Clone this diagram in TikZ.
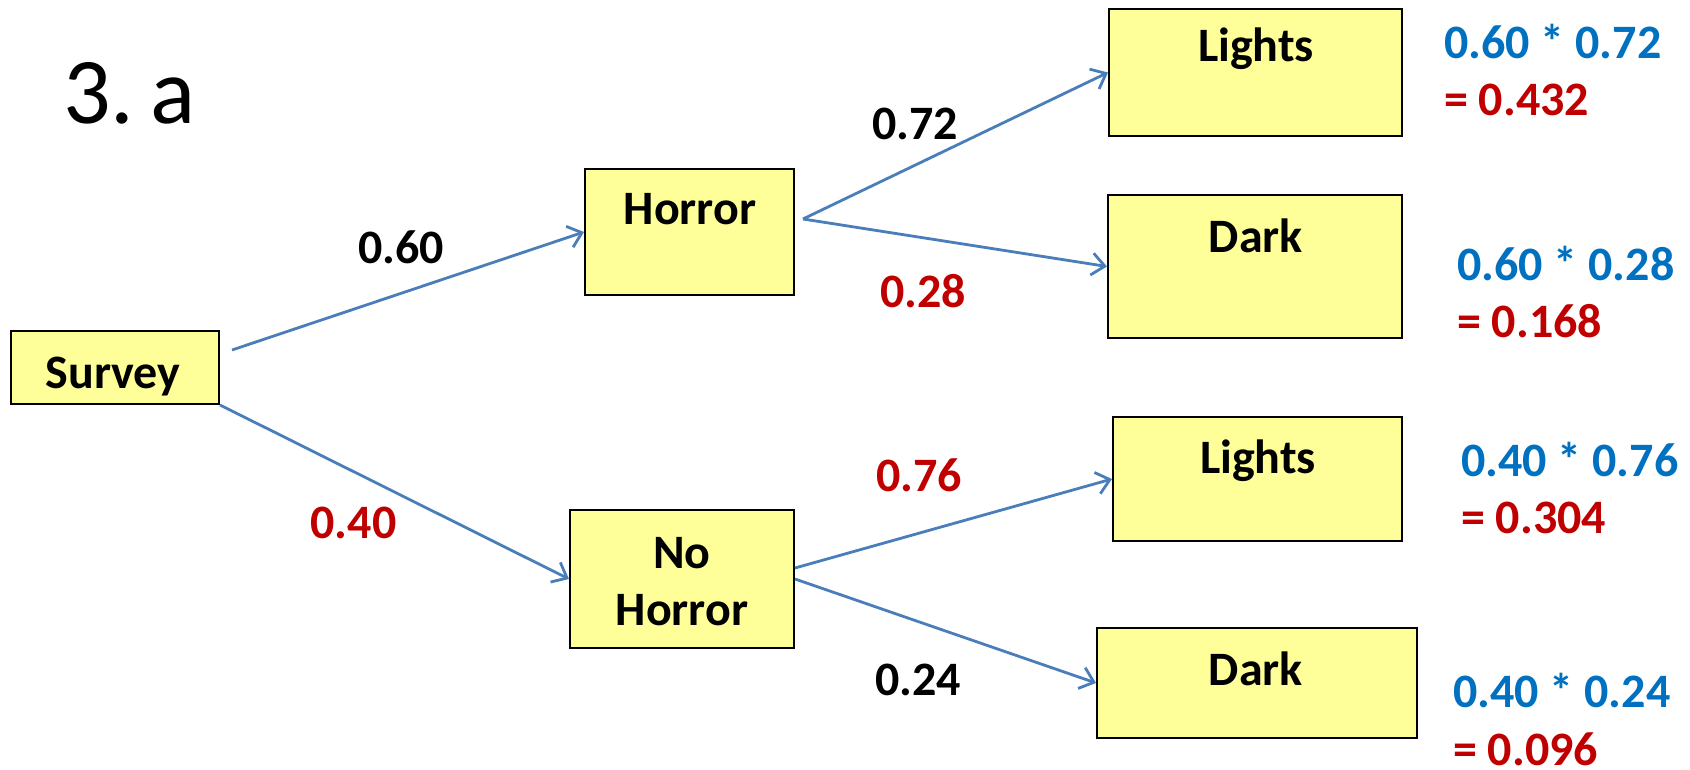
\documentclass[tikz,border=0pt]{standalone}
\usepackage{fontspec}
\setmainfont{Carlito}
\usetikzlibrary{arrows.meta}
\definecolor{boxfill}{HTML}{FFFF99}
\definecolor{linkblue}{HTML}{4A7EBB}
\definecolor{calcblue}{HTML}{0070C0}
\definecolor{calcred}{HTML}{C00000}
\begin{document}
\begin{tikzpicture}[x=1pt,y=-1pt,
  box/.style={draw=black, line width=2pt, fill=boxfill, inner sep=0pt},
  lbl/.style={font=\fontsize{48}{57}\selectfont\bfseries, anchor=base, inner sep=0pt},
  calc/.style={font=\fontsize{48}{57}\selectfont\bfseries, anchor=base west, inner sep=0pt},
  link/.style={draw=linkblue, line width=2.8pt, -{Straight Barb[length=13pt,width=22pt]}}]
\useasboundingbox (0,0) rectangle (1690,770);
\node[font=\fontsize{94}{106}\selectfont, anchor=base west, inner sep=0pt] (title) at (63,124) {3.\hspace{0.17em}a};
% boxes
\node[box, minimum width=208pt, minimum height=73pt] (s) at (115,367.5) {};
\node[box, minimum width=209pt, minimum height=126pt] (h) at (689.5,232) {};
\node[box, minimum width=224pt, minimum height=138pt] (nh) at (682,579) {};
\node[box, minimum width=293pt, minimum height=127pt] (l1) at (1255.5,72.5) {};
\node[box, minimum width=294pt, minimum height=143pt] (d1) at (1255,266.5) {};
\node[box, minimum width=289pt, minimum height=124pt] (l2) at (1257.5,479) {};
\node[box, minimum width=320pt, minimum height=110pt] (d2) at (1257,683) {};
% box texts
\node[lbl] (st) at (113,388) {Survey};
\node[lbl] (ht) at (690,225) {Horror};
\node[lbl] (nht1) at (682,568) {No};
\node[lbl] (nht2) at (682,625) {Horror};
\node[lbl] (l1t) at (1256,62) {Lights};
\node[lbl] (d1t) at (1256,253) {Dark};
\node[lbl] (l2t) at (1258,473) {Lights};
\node[lbl] (d2t) at (1256,685) {Dark};
% fork points
\coordinate (sa) at (232,350);
\coordinate (hf) at (803,219);
% connectors
\draw[link] (sa) -- (h.west);
\draw[link] (s.south east) -- (nh.west);
\draw[link] (hf) -- (l1.west);
\draw[link] (hf) -- (d1.west);
\draw[link] ([yshift=11pt]nh.east) -- (l2.west);
\draw[link] (nh.east) -- (d2.west);
% branch probabilities
\node[lbl] (p1) at (401,264) {0.60};
\node[lbl, text=calcred] (p2) at (353.5,538) {0.40};
\node[lbl] (p3) at (915,140) {0.72};
\node[lbl, text=calcred] (p4) at (923,308) {0.28};
\node[lbl, text=calcred] (p5) at (919,491) {0.76};
\node[lbl] (p6) at (918,695) {0.24};
% calculations
\node[calc, text=calcblue] (c1) at (1444,59) {0.60 * 0.72};
\node[calc, text=calcred] (r1) at (1444,116) {= 0.432};
\node[calc, text=calcblue] (c2) at (1457,280) {0.60 * 0.28};
\node[calc, text=calcred] (r2) at (1457,337) {= 0.168};
\node[calc, text=calcblue] (c3) at (1461,476) {0.40 * 0.76};
\node[calc, text=calcred] (r3) at (1461,533) {= 0.304};
\node[calc, text=calcblue] (c4) at (1453,707) {0.40 * 0.24};
\node[calc, text=calcred] (r4) at (1453,765) {= 0.096};
\end{tikzpicture}
\end{document}
